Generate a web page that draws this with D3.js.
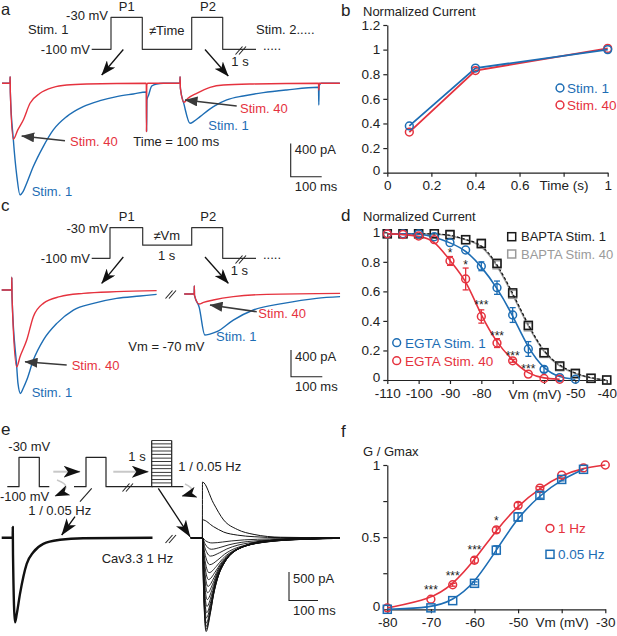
<!DOCTYPE html>
<html><head><meta charset="utf-8">
<script src="https://cdn.jsdelivr.net/npm/d3@7"></script>
<style>
body{margin:0;background:#fff}
svg text{font-family:"Liberation Sans",Arial,Helvetica,sans-serif;font-size:13px;fill:#222}
</style></head><body>
<svg id="fig" width="617" height="636"></svg>
<script>
// ================= DATA =================
// Panel a traces: [time (ms), current (pA)]
const aStim1 = [[0,0],[25.8,0],[26.3,80],[27,-120],[36.5,-672],[48,-1120],[58,-1340],[68,-1300],[79.7,-1200],[101,-1000],[133,-760],[165.5,-560],[208.7,-400],[262,-280],[316,-209],[370,-160],[423.6,-128],[466,-104],[466.5,-580],[467.5,-200],[473,-140],[483,-32],[499,-8],[520,0],[574,0],[574.5,80],[575.5,-60],[587,-250],[606.5,-480],[620,-455],[639,-400],[682,-280],[725,-200],[778,-152],[843,-112],[918,-80],[1020,-48],[1021,-48],[1022,-260],[1023,-30],[1030,0],[1090,0]];
const aStim40 = [[0,0],[25.8,0],[26.3,80],[27,-120],[36.5,-672],[51,-560],[68.7,-440],[90.3,-240],[122.6,-120],[165.5,-48],[208.7,-20],[273,-8],[465.5,0],[466,-580],[467,-20],[470,0],[574,0],[574.5,80],[575.5,-60],[587,-228],[600,-180],[628,-120],[671,-48],[714,-20],[810,-8],[1021,0],[1022,-80],[1023,0],[1090,0]];
// Panel a protocol: [schematic time, mV]
const protoA = [[0,-100],[19.3,-100],[19.3,-30],[50.6,-30],[50.6,-100],[100,-100],[100,-30],[131,-30],[131,-100],[164.3,-100]];

// Panel b
const bTime = [0.1, 0.4, 1];
const bStim1 = [0.38, 0.85, 1.0];
const bStim40 = [0.33, 0.83, 1.01];
const bXTicks = [0, 0.2, 0.4, 0.6, 0.8, 1];
const bXLabels = ["0", "0.2", "0.4", "0.6", "Time (s)", "1"];
const bYTicks = [0, 0.2, 0.4, 0.6, 0.8, 1, 1.2];
const bYLabels = ["0", "0.2", "0.4", "0.6", "0.8", "1", "1.2"];

// Panel c traces
const cStim1 = [[0,0],[32,0],[32.3,190],[33,-100],[48,-1150],[52,-1400],[60,-1550],[68,-1480],[80,-1350],[101,-1050],[133,-750],[176,-500],[229,-300],[293,-200],[367,-125],[442,-90],[495,-65],
                [583,-60],[615,-60],[615.3,60],[616,-80],[631,-260],[649,-675],[665,-660],[687,-625],[740,-450],[804,-300],[900,-200],[1006,-125],[1081,-100]];
const cStim40 = [[0,0],[32,0],[32.3,190],[33,-100],[48,-1150],[58.5,-1000],[80,-750],[101,-400],[133,-200],[186,-100],[261,-50],[367,-25],[495,-10],
                 [583,-60],[615,-60],[615.3,60],[616,-80],[631,-210],[645,-185],[676,-150],[740,-100],[847,-65],[1081,-50]];
const cGapAfter = 495; // ms where the left sweep ends
const protoC = [[0,-100],[18.3,-100],[18.3,-30],[51,-30],[51,-70],[100,-70],[100,-30],[131,-30],[131,-100],[164.3,-100]];

// Panel d
const dVm = [-110,-105,-100,-95,-90,-85,-80,-75,-70,-65,-60,-55,-50,-45,-40];
const dBapta1 = [0.99,0.99,0.99,0.99,0.985,0.95,0.925,0.79,0.59,0.37,0.185,0.095,0.045,0.012,0.0];
const dBapta40 = [0.99,0.99,0.99,0.99,0.98,0.95,0.92,0.78,0.58,0.36,0.18,0.09,0.04,0.01,0.0];
const dVmE1 = [-110,-105,-100,-95,-90,-85,-80,-75,-70,-65,-60,-55,-50];
const dEgta1 = [0.99,0.99,0.99,0.97,0.93,0.88,0.77,0.625,0.44,0.21,0.072,0.016,0.005];
const dEgta1Err = [0,0,0,0,0,0,0.03,0.045,0.05,0.05,0.02,0,0];
const dVmE40 = [-110,-105,-100,-95,-90,-85,-80,-75,-70,-65,-60,-55];
const dEgta40 = [0.99,0.985,0.975,0.95,0.806,0.684,0.43,0.25,0.13,0.04,0.01,0.005];
const dEgta40Err = [0,0,0,0,0.03,0.074,0.045,0.03,0.01,0,0,0];
const dStars = [[-90,0.88,"*"],[-85,0.80,"*"],[-80,0.53,"***"],[-75,0.32,"***"],[-70,0.18,"***"],[-65,0.095,"***"]];
const dXTicks = [-110,-100,-90,-80,-70,-60,-50,-40];
const dXLabels = ["-110","-100","-90","-80","","","-50","-40"];
const dYTicks = [0,0.2,0.4,0.6,0.8,1];
const dYLabels = ["0","0.2","0.4","0.6","0.8","1"];

// Panel e
const eLeft = [[0,0],[38,0],[38.2,190],[39,-300],[45.9,-1477],[52,-1330],[63.1,-980],[86.2,-455],[109,-252],[143.4,-105],[201,-35],[281,-7],[520,0]];
const eRightStart = 652, eOnset = 692, eRightEnd = 1166; // ms
const eTmplIn = [[0,0],[4,0.55],[12.8,1],[26.7,0.82],[38.3,0.61],[55.7,0.40],[73.2,0.28],[96.4,0.175],[131,0.105],[177.7,0.053],[247,0.025],[363,0.007],[474,0]];
const eTmplOut = [[0,1],[38,0.62],[73,0.32],[120,0.15],[178,0.06],[270,0.01],[474,0]];
const eInPeaks = [-90,-200,-320,-470,-610,-730,-850,-960,-1080,-1200,-1310,-1400,-1490,-1550,-1600,-1640];
const eInStretch = [2.6,2.4,2.2,2.0,1.8,1.65,1.5,1.4,1.3,1.22,1.16,1.1,1.06,1.04,1.02,1.0];
const eOutPeaks = [975, 315];
const ePulse1 = [[0,-100],[11.7,-100],[11.7,-30],[32,-30],[32,-100],[42,-100]];
const ePulse2 = [[66.7,-100],[78.7,-100],[78.7,-30],[98.7,-30],[98.7,-100],[145.4,-100]];
const eStepLevels = [-91,-83,-74,-66,-57,-49,-40,-32,-23,-15,-6,2,10];

// Panel f
const fVm = [-80,-70,-65,-60,-55,-50,-45,-40,-35,-30];
const f1Hz = [0.01,0.07,0.17,0.34,0.55,0.72,0.84,0.93,0.98,1.0];
const f1HzErr = [0,0,0.01,0.02,0.02,0.02,0.01,0,0,0];
const fVm005 = [-80,-70,-65,-60,-55,-50,-45,-40,-35];
const f005 = [0.0,0.01,0.06,0.18,0.41,0.64,0.79,0.90,0.97];
const f005Err = [0,0,0,0.01,0.03,0.03,0.02,0.01,0];
const fStars = [[-70,0.157,"***"],[-65,0.25,"***"],[-60,0.43,"***"],[-55,0.63,"*"]];
const fXTicks = [-80,-70,-60,-50,-40,-30];
const fXLabels = ["-80","-70","-60","-50","Vm (mV)","-30"];
const fYTicks = [0,0.25,0.5,0.75,1];
const fYLabels = ["0","","0.5","","1"];

// ================= DRAWING =================
const FONT = '"Liberation Sans", Arial, Helvetica, sans-serif';
const BLUE = "#1d6db4", RED = "#e5323e", INK = "#222", DARK = "#3a3a3a";
const svg = d3.select("#fig");
svg.append("rect").attr("width", 617).attr("height", 636).attr("fill", "#fff");
const defs = svg.append("defs");
function marker(id, path, w, h, fill) {
  defs.append("marker").attr("id", id).attr("viewBox", `0 0 ${w} ${h}`)
    .attr("refX", w - 0.5).attr("refY", h / 2).attr("markerWidth", w).attr("markerHeight", h)
    .attr("markerUnits", "userSpaceOnUse").attr("orient", "auto")
    .append("path").attr("d", path).attr("fill", fill);
}
marker("notch", "M0,0L15,5.5L0,11L4,5.5Z", 15, 11, "#111");
marker("notchBig", "M0,0L17,6L0,12L4.5,6Z", 17, 12, "#111");
marker("tri", "M0,0L13,5L0,10Z", 13, 10, DARK);

function txt(x, y, s, o = {}) {
  const t = svg.append("text").attr("x", x).attr("y", y).text(s)
    .attr("text-anchor", o.anchor || "start").style("fill", o.fill || INK);
  if (o.size) t.style("font-size", o.size + "px");
  return t;
}
function arrow(x1, y1, x2, y2, m, color, w) {
  svg.append("line").attr("x1", x1).attr("y1", y1).attr("x2", x2).attr("y2", y2)
    .attr("stroke", color).attr("stroke-width", w).attr("marker-end", `url(#${m})`);
}
function seg(x1, y1, x2, y2, color = INK, w = 1.1) {
  svg.append("line").attr("x1", x1).attr("y1", y1).attr("x2", x2).attr("y2", y2)
    .attr("stroke", color).attr("stroke-width", w);
}
function brk(x, y, w = 1.1) { // "//" break marks
  seg(x - 4.5, y + 4, x + 2.5, y - 4, INK, w);
  seg(x - 1, y + 4, x + 6, y - 4, INK, w);
}
function trace(data, sx, sy, color, w, curve = d3.curveMonotoneX) {
  svg.append("path").datum(data)
    .attr("d", d3.line().x(d => sx(d[0])).y(d => sy(d[1])).curve(curve))
    .attr("fill", "none").attr("stroke", color).attr("stroke-width", w)
    .attr("stroke-linejoin", "round");
}
function scaleBar(x0, y0, sx, sy, pA, pALabel) {
  const h = Math.abs(sy(-pA) - sy(0)), w = sx(100) - sx(0);
  svg.append("path").attr("d", `M${x0},${y0 - h}V${y0}H${x0 + w}`)
    .attr("fill", "none").attr("stroke", INK).attr("stroke-width", 1.1);
  txt(x0 + 4, y0 - h + 11, pALabel);
  txt(x0 + 4, y0 + 14.5, "100 ms");
}
function axes(sx, sy, xt, xl, yt, yl) {
  const g = svg.append("g");
  g.append("g").attr("transform", `translate(0,${sy.range()[0]})`)
    .call(d3.axisBottom(sx).tickValues(xt).tickFormat((d, i) => xl[i]).tickSize(4).tickSizeOuter(0).tickPadding(4));
  const ya = g.append("g").attr("class", "yax").attr("transform", `translate(${sx.range()[0]},0)`)
    .call(d3.axisLeft(sy).tickValues(yt).tickFormat((d, i) => yl[i]).tickSize(4).tickSizeOuter(0).tickPadding(3));
  g.selectAll(".domain,.tick line").attr("stroke", INK).attr("stroke-width", 1.2);
  g.selectAll(".tick text").attr("font-family", FONT).style("font-size", "13.5px").style("fill", INK);
  // lift the "0" label a touch so it clears the first x label
  ya.selectAll(".tick text").filter(d => d === 0).attr("dy", "0.1em");
  return g;
}
function circles(xs, ys, sx, sy, color, r = 3.9) {
  svg.append("g").selectAll("circle").data(xs).join("circle")
    .attr("cx", d => sx(d)).attr("cy", (d, i) => sy(ys[i])).attr("r", r)
    .attr("fill", "none").attr("stroke", color).attr("stroke-width", 1.5);
}
function squares(xs, ys, sx, sy, color, s = 8) {
  svg.append("g").selectAll("rect").data(xs).join("rect")
    .attr("x", d => sx(d) - s / 2).attr("y", (d, i) => sy(ys[i]) - s / 2).attr("width", s).attr("height", s)
    .attr("fill", "none").attr("stroke", color).attr("stroke-width", 1.5);
}
function errbars(xs, ys, es, sx, sy, color) {
  const g = svg.append("g").attr("stroke", color).attr("stroke-width", 1.3);
  xs.forEach((x, i) => {
    if (!es[i]) return;
    const X = sx(x), y1 = sy(ys[i] - es[i]), y2 = sy(ys[i] + es[i]);
    g.append("line").attr("x1", X).attr("x2", X).attr("y1", y1).attr("y2", y2);
    g.append("line").attr("x1", X - 3).attr("x2", X + 3).attr("y1", y1).attr("y2", y1);
    g.append("line").attr("x1", X - 3).attr("x2", X + 3).attr("y1", y2).attr("y2", y2);
  });
}
function fitLine(xs, ys, sx, sy, color, w, dash) {
  const p = svg.append("path").datum(xs.map((x, i) => [x, ys[i]]))
    .attr("d", d3.line().x(d => sx(d[0])).y(d => sy(d[1])).curve(d3.curveBasis))
    .attr("fill", "none").attr("stroke", color).attr("stroke-width", w);
  if (dash) p.attr("stroke-dasharray", dash);
}
function stars(list, sx, sy) {
  list.forEach(([x, y, s]) => txt(sx(x), sy(y) + 7, s, { anchor: "middle", size: 12 }));
}

// ---------- Panel a ----------
txt(1, 15, "a", { size: 16.5 });
const pAx = d3.scaleLinear().domain([0, 100]).range([91.7, 191.7]);
const pAy = d3.scaleLinear().domain([-100, -30]).range([49.3, 17.3]);
trace(protoA, pAx, pAy, "#333", 1.2, d3.curveLinear);
brk(240, 50.5);
txt(108, 19.6, "-30 mV", { anchor: "end" });
txt(126.7, 11.3, "P1", { anchor: "middle" });
txt(208, 11.3, "P2", { anchor: "middle" });
txt(28, 34, "Stim. 1");
txt(166.7, 35.3, "\u2260Time", { anchor: "middle" });
txt(256, 34, "Stim. 2.....");
txt(90, 54, "-100 mV", { anchor: "end" });
txt(263, 50, ".....");
txt(240, 66, "1 s", { anchor: "middle" });
arrow(123.3, 49.5, 101.7, 75, "notch", "#111", 1.3);
arrow(205, 49.5, 228.3, 76, "notch", "#111", 1.3);
const aX = d3.scaleLinear().domain([0, 100]).range([2, 33]);
const aY = d3.scaleLinear().domain([0, -400]).range([83.3, 116.6]);
trace(aStim1, aX, aY, BLUE, 1.4);
trace(aStim40, aX, aY, RED, 1.4);
arrow(65, 140.7, 21.7, 136, "tri", DARK, 1.6);
arrow(236.7, 106, 185, 100, "tri", DARK, 1.6);
txt(70, 146.3, "Stim. 40", { fill: RED });
txt(133.3, 146.3, "Time = 100 ms");
txt(31.7, 196.3, "Stim. 1", { fill: BLUE });
txt(240, 113, "Stim. 40", { fill: RED });
txt(208.3, 129.6, "Stim. 1", { fill: BLUE });
scaleBar(290.7, 176.7, aX, aY, 400, "400 pA");

// ---------- Panel b ----------
txt(341, 15.5, "b", { size: 17 });
txt(363, 15.5, "Normalized Current");
const bX = d3.scaleLinear().domain([0, 1]).range([387.3, 607.7]);
const bY = d3.scaleLinear().domain([0, 1.2]).range([172.7, 25]);
axes(bX, bY, bXTicks, bXLabels, bYTicks, bYLabels);
const bLine = d3.line().x(d => bX(d[0])).y(d => bY(d[1]));
svg.append("path").attr("d", bLine(bTime.map((t, i) => [t, bStim40[i]]))).attr("fill", "none").attr("stroke", RED).attr("stroke-width", 1.8);
svg.append("path").attr("d", bLine(bTime.map((t, i) => [t, bStim1[i]]))).attr("fill", "none").attr("stroke", BLUE).attr("stroke-width", 1.8);
circles(bTime, bStim40, bX, bY, RED);
circles(bTime, bStim1, bX, bY, BLUE);
svg.append("circle").attr("cx", 560).attr("cy", 88).attr("r", 3.9).attr("fill", "none").attr("stroke", BLUE).attr("stroke-width", 1.5);
txt(567, 92.6, "Stim. 1", { fill: BLUE, size: 13.5 });
svg.append("circle").attr("cx", 560).attr("cy", 105).attr("r", 3.9).attr("fill", "none").attr("stroke", RED).attr("stroke-width", 1.5);
txt(567, 109.6, "Stim. 40", { fill: RED, size: 13.5 });

// ---------- Panel c ----------
txt(1, 211, "c", { size: 17 });
const pCy = d3.scaleLinear().domain([-100, -30]).range([258.3, 227.7]);
trace(protoC, pAx, pCy, "#333", 1.2, d3.curveLinear);
brk(240, 259.5);
txt(108.3, 233, "-30 mV", { anchor: "end" });
txt(126.7, 221.3, "P1", { anchor: "middle" });
txt(208.3, 221.3, "P2", { anchor: "middle" });
txt(90, 263, "-100 mV", { anchor: "end" });
txt(166.7, 239.6, "\u2260Vm", { anchor: "middle" });
txt(166.7, 260, "1 s", { anchor: "middle" });
txt(239.3, 275, "1 s", { anchor: "middle" });
txt(263, 259, ".....");
arrow(123.3, 257, 101.7, 283.3, "notch", "#111", 1.3);
arrow(205, 257, 228.3, 283.3, "notch", "#111", 1.3);
const cX = d3.scaleLinear().domain([0, 100]).range([1.7, 33]);
const cY = d3.scaleLinear().domain([0, -400]).range([290, 316.7]);
[cStim1, cStim40].forEach((d, k) => {
  const col = k ? RED : BLUE;
  trace(d.filter(p => p[0] <= cGapAfter), cX, cY, col, 1.4);
  trace(d.filter(p => p[0] > cGapAfter), cX, cY, col, 1.4);
});
brk(170, 294.5);
arrow(66.7, 365, 25, 361.7, "tri", DARK, 1.6);
arrow(256.7, 311.7, 210, 305, "tri", DARK, 1.6);
txt(71.7, 370.3, "Stim. 40", { fill: RED });
txt(31.7, 397.3, "Stim. 1", { fill: BLUE });
txt(128.3, 351.3, "Vm = -70 mV");
txt(258.3, 318, "Stim. 40", { fill: RED });
txt(216, 340.6, "Stim. 1", { fill: BLUE });
scaleBar(291, 376.7, cX, cY, 400, "400 pA");

// ---------- Panel d ----------
txt(341, 220.7, "d", { size: 17 });
txt(363, 221, "Normalized Current");
const dX = d3.scaleLinear().domain([-110, -40]).range([387.3, 606.7]);
const dY = d3.scaleLinear().domain([0, 1]).range([380, 232.3]);
axes(dX, dY, dXTicks, dXLabels, dYTicks, dYLabels);
txt(535, 398.5, "Vm (mV)", { anchor: "middle", size: 13.5 });
fitLine(dVm, dBapta40, dX, dY, "#9a9a9a", 1.6);
fitLine(dVm, dBapta1, dX, dY, "#111", 1.2, "3,2");
fitLine(dVmE1, dEgta1, dX, dY, BLUE, 1.6);
fitLine(dVmE40, dEgta40, dX, dY, RED, 1.6);
errbars(dVmE1, dEgta1, dEgta1Err, dX, dY, BLUE);
errbars(dVmE40, dEgta40, dEgta40Err, dX, dY, RED);
squares(dVm, dBapta40, dX, dY, "#9a9a9a");
squares(dVm, dBapta1, dX, dY, "#1a1a1a");
circles(dVmE1, dEgta1, dX, dY, BLUE);
circles(dVmE40, dEgta40, dX, dY, RED);
stars(dStars, dX, dY);
svg.append("rect").attr("x", 507.7).attr("y", 232.7).attr("width", 8).attr("height", 8).attr("fill", "none").attr("stroke", "#1a1a1a").attr("stroke-width", 1.5);
txt(521, 241.3, "BAPTA Stim. 1", { size: 13 });
svg.append("rect").attr("x", 507.7).attr("y", 250).attr("width", 8).attr("height", 8).attr("fill", "none").attr("stroke", "#9a9a9a").attr("stroke-width", 1.5);
txt(521, 258.7, "BAPTA Stim. 40", { fill: "#9a9a9a", size: 13 });
svg.append("circle").attr("cx", 396.7).attr("cy", 342.7).attr("r", 3.9).attr("fill", "none").attr("stroke", BLUE).attr("stroke-width", 1.5);
txt(405, 347.5, "EGTA Stim. 1", { fill: BLUE, size: 13.5 });
svg.append("circle").attr("cx", 396.7).attr("cy", 360.7).attr("r", 3.9).attr("fill", "none").attr("stroke", RED).attr("stroke-width", 1.5);
txt(405, 365.5, "EGTA Stim. 40", { fill: RED, size: 13.5 });

// ---------- Panel e ----------
txt(1, 435, "e", { size: 17 });
const pEx = d3.scaleLinear().domain([0, 100]).range([7.3, 107.3]);
const pEy = d3.scaleLinear().domain([-100, -30]).range([486.7, 457.3]);
trace(ePulse1, pEx, pEy, "#222", 1.2, d3.curveLinear);
trace(ePulse2, pEx, pEy, "#222", 1.2, d3.curveLinear);
trace([[144.4, -100], [176, -100]], pEx, pEy, "#222", 1.2, d3.curveLinear);
const topL = d3.max(eStepLevels);
trace([[144.4, -100], [144.4, topL]], pEx, pEy, "#222", 1.2, d3.curveLinear);
trace([[164.4, -100], [164.4, topL]], pEx, pEy, "#222", 1.2, d3.curveLinear);
eStepLevels.forEach(L => trace([[144.4, L], [164.4, L]], pEx, pEy, "#222", 0.9, d3.curveLinear));
brk(127, 487.5);
txt(8.3, 451.3, "-30 mV");
txt(0, 500.6, "-100 mV");
txt(128.3, 460.6, "1 s");
txt(178.3, 471.3, "1 / 0.05 Hz");
txt(28.3, 514.6, "1 / 0.05 Hz");
arrow(53.3, 471.7, 80, 471.7, "notchBig", "#c8c8c8", 2);
arrow(113.3, 471.7, 148.3, 471.7, "notchBig", "#c8c8c8", 2);
svg.append("path").attr("d", "M57,480Q76,487 55,496").attr("fill", "none").attr("stroke", "#c8c8c8").attr("stroke-width", 1.6).attr("marker-end", "url(#notch)");
svg.append("path").attr("d", "M185,484Q200,491 182,496").attr("fill", "none").attr("stroke", "#c8c8c8").attr("stroke-width", 1.6).attr("marker-end", "url(#notch)");
seg(91.7, 488.3, 80, 501.7, "#222", 1.1);
arrow(75, 516.7, 61.7, 535, "notchBig", "#111", 1.3);
arrow(158.3, 488.3, 190, 536.7, "notchBig", "#111", 1.3);
const eX = d3.scaleLinear().domain([0, 100]).range([1.7, 30.7]);
const eY = d3.scaleLinear().domain([0, -500]).range([537.8, 566.4]);
trace(eLeft, eX, eY, "#111", 2.4);
brk(170, 539);
eOutPeaks.forEach(a => {
  const pts = [[eRightStart, 0], [eOnset, 0]].concat(eTmplOut.map(([t, f]) => [eOnset + 0.3 + t, a * f]));
  trace(pts, eX, eY, "#111", 1.0);
});
eInPeaks.forEach((a, i) => {
  const s = eInStretch[i];
  const body = eTmplIn.filter(([t]) => t * s < 470).map(([t, f]) => [eOnset + t * s, a * f]);
  const pts = [[eRightStart, 0]].concat(body, [[eRightEnd, 0]]);
  trace(pts, eX, eY, "#111", 0.9);
});
txt(101.7, 563, "Cav3.3 1 Hz");
scaleBar(289, 600.5, eX, eY, 500, "500 pA");

// ---------- Panel f ----------
txt(341, 436.7, "f", { size: 17 });
txt(363, 456, "G / Gmax");
const fX = d3.scaleLinear().domain([-80, -30]).range([387.3, 605.3]);
const fY = d3.scaleLinear().domain([0, 1]).range([609.3, 465]);
axes(fX, fY, fXTicks, fXLabels, fYTicks, fYLabels);
fitLine(fVm, f1Hz, fX, fY, RED, 1.6);
fitLine(fVm005, f005, fX, fY, BLUE, 1.6);
errbars(fVm, f1Hz, f1HzErr, fX, fY, RED);
errbars(fVm005, f005, f005Err, fX, fY, BLUE);
circles(fVm, f1Hz, fX, fY, RED);
squares(fVm005, f005, fX, fY, BLUE);
stars(fStars, fX, fY);
svg.append("circle").attr("cx", 550).attr("cy", 528.3).attr("r", 3.9).attr("fill", "none").attr("stroke", RED).attr("stroke-width", 1.5);
txt(558, 533, "1 Hz", { fill: RED, size: 13.5 });
svg.append("rect").attr("x", 546).attr("y", 550.3).attr("width", 8).attr("height", 8).attr("fill", "none").attr("stroke", BLUE).attr("stroke-width", 1.5);
txt(558, 559, "0.05 Hz", { fill: BLUE, size: 13.5 });
</script>
</body></html>
